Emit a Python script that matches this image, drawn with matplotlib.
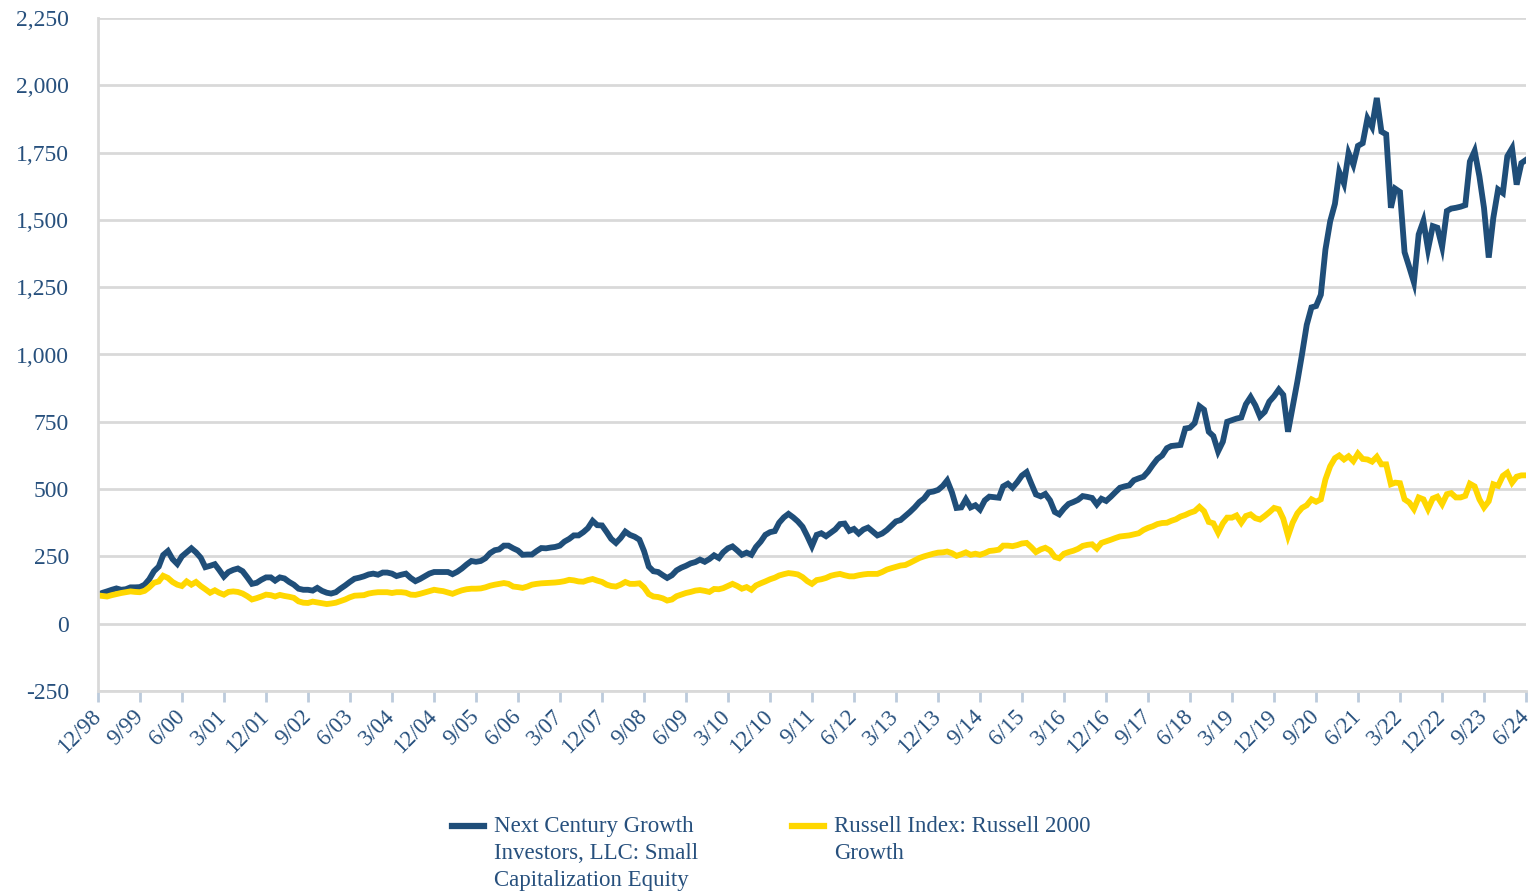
import numpy as np
import pandas as pd
import matplotlib
matplotlib.use('Agg')
import matplotlib.pyplot as plt
from matplotlib.lines import Line2D
from matplotlib.ticker import FuncFormatter

plt.rcParams['font.family'] = ['Liberation Serif', 'DejaVu Serif']

# growth of $100, monthly, 12/98 .. 6/24
fund = [
    108, 115, 120, 126, 131, 126, 128, 135, 135, 136, 145, 165,
    195, 212, 255, 270, 240, 222, 250, 265, 280, 265, 245, 210,
    215, 221, 200, 175, 192, 200, 205, 195, 172, 148, 152, 163,
    172, 172, 160, 172, 168, 155, 145, 130, 126, 126, 123, 133,
    122, 115, 112, 117, 130, 142, 155, 167, 171, 176, 183, 186,
    182, 190, 190, 186, 177, 182, 186, 170, 158, 166, 176, 186,
    192, 192, 192, 192, 184, 193, 205, 220, 233, 230, 233, 243,
    262, 273, 276, 290, 290, 280, 272, 256, 257, 257, 270, 281,
    280, 283, 285, 290, 305, 315, 328, 328, 340, 355, 382, 366,
    365, 340, 315, 300, 318, 342, 330, 323, 312, 270, 212, 195,
    192, 180, 170, 180, 198, 208, 215, 224, 229, 238, 230, 240,
    254, 244, 265, 280, 287, 272, 256, 264, 256, 285, 305, 330,
    340, 344, 375, 395, 408, 395, 380, 360, 325, 288, 330, 336,
    325, 338, 350, 370, 372, 345, 352, 335, 350, 357, 342, 328,
    335, 348, 363, 380, 385, 400, 415, 432, 452, 465, 488, 491,
    497, 512, 532, 488, 430, 432, 462, 432, 440, 424, 458, 472,
    470, 468, 510, 520, 505, 526, 550, 563, 520, 480, 473, 482,
    458, 415, 406, 428, 445, 452, 460, 474, 471, 467, 443, 464,
    456, 472, 488, 505, 510, 514, 533, 540, 546, 565, 590, 612,
    625, 652, 660, 662, 664, 725, 728, 745, 808, 795, 713, 697,
    640, 676, 750, 756, 762, 766, 815, 842, 811, 770, 787, 825,
    845, 870, 850, 713, 805, 900, 1000, 1110, 1175, 1180, 1222, 1390,
    1495, 1560, 1678, 1635, 1748, 1705, 1775, 1785, 1877, 1846, 1953, 1828,
    1818, 1545, 1616, 1604, 1380, 1324, 1268, 1446, 1496, 1391, 1477, 1471,
    1400, 1533, 1542, 1545, 1549, 1555, 1717, 1756, 1662, 1545, 1360, 1508,
    1613, 1600, 1736, 1766, 1631, 1711, 1723,
]

russell = [
    105, 103, 101, 106, 110, 114, 117, 120, 118, 117, 122, 135,
    152, 157, 178, 170, 155, 145, 140, 157, 145, 155, 140, 128,
    115, 124, 115, 108, 118, 120, 118, 112, 102, 90, 95, 101,
    108, 106, 101, 107, 103, 100, 96, 83, 78, 77, 82, 79,
    76, 73, 75, 78, 84, 90, 98, 104, 105, 106, 112, 115,
    117, 117, 117, 114, 117, 117, 115, 108, 107, 111, 116, 121,
    126, 123, 121, 116, 111, 118, 124, 128, 130, 130, 131, 135,
    141, 145, 148, 151, 148, 138, 136, 133, 138, 145, 148, 150,
    151, 152, 153, 155, 158, 163, 161, 157, 156, 162, 166, 160,
    155, 145, 140, 138, 145, 155, 148, 148, 150, 135, 110, 101,
    99, 94, 86, 90, 102, 108, 114, 118, 123, 125, 122, 118,
    129, 128, 132, 140, 148, 140, 130, 136, 126, 142, 150, 157,
    165, 171, 179, 184, 188, 186, 183, 173, 158, 148, 162, 165,
    170, 178, 182, 185, 180, 176, 176, 180, 183, 185, 185, 185,
    192, 201, 206, 211, 216, 218, 226, 235, 244, 250, 255, 260,
    264, 265, 268, 262, 252, 258, 265, 256, 260, 256, 262, 270,
    272, 275, 290, 290, 288, 292, 298, 300, 284, 266, 276, 282,
    272, 248, 243, 260, 266, 271, 278, 289, 293, 295, 279, 300,
    306, 312, 318, 324, 326, 328, 332, 336, 348, 356, 362, 370,
    374, 375, 382, 388, 398, 404, 412, 418, 434, 418, 378, 373,
    338, 373, 394, 394, 402, 375, 400, 406, 392, 387, 400, 414,
    430, 425, 390, 326, 375, 410, 430, 440, 462, 453, 462, 536,
    585, 615, 625, 610, 622, 604, 632, 612, 610, 602, 620, 592,
    592, 518, 524, 522, 462, 450, 426, 469, 462, 426, 465, 472,
    444, 481, 485, 469, 469, 475, 520, 510, 462, 432, 455, 518,
    512, 549, 561, 524, 546, 551, 551,
]

dates = pd.date_range('1998-12-31', periods=len(fund), freq='ME')
tick_dates = dates[::9]
tick_labels = [f"{d.month}/{d.strftime('%y')}" for d in tick_dates]

fund_label = 'Next Century Growth\nInvestors, LLC: Small\nCapitalization Equity'
russell_label = 'Russell Index: Russell 2000\nGrowth'

navy = '#1f4e79'
gold = '#ffd700'
txt = '#27507d'
grid = '#d9d9d9'

fig = plt.figure(figsize=(15.36, 8.96), dpi=100)
ax = fig.add_axes([98/1536, 1-691/896, 1428/1536, 673/896])

ax.plot(dates, fund, color=navy, lw=4.2, solid_joinstyle='miter')
ax.plot(dates, russell, color=gold, lw=4.2, solid_joinstyle='miter')

ax.set_xlim(dates[0], dates[-1])
ax.set_ylim(-250, 2250)
ax.set_yticks(np.arange(-250, 2251, 250))
ax.yaxis.set_major_formatter(FuncFormatter(lambda v, p: f'{int(v):,}'))
ax.grid(axis='y', color=grid, lw=2)
ax.set_axisbelow(True)

for s in ['top', 'right']:
    ax.spines[s].set_visible(False)
ax.spines['left'].set_color(grid)
ax.spines['left'].set_linewidth(2)
ax.spines['bottom'].set_color(grid)
ax.spines['bottom'].set_linewidth(2)

ax.tick_params(axis='y', length=0, pad=21, labelsize=17, labelcolor=txt)
ax.set_xticks(tick_dates)
ax.set_xticklabels(tick_labels, rotation=45, ha='right', va='center',
                   rotation_mode='anchor')
ax.tick_params(axis='x', length=8, width=2, color='#bccbdc', pad=8,
               labelsize=16.5, labelcolor=txt)

# legend drawn by hand under the plot
def px(x, y):
    return x/1536, 1-y/896

for hx, tx, lab, col in [(452, 494, fund_label, navy),
                         (792, 834, russell_label, gold)]:
    x0, y0 = px(hx, 826)
    x1, _ = px(hx + 32, 826)
    fig.add_artist(Line2D([x0, x1], [y0, y0], color=col, lw=4.5,
                          transform=fig.transFigure))
    fig.text(*px(tx, 816), lab, ha='left', va='top', fontsize=16.5,
             color=txt, linespacing=1.39)

fig.savefig('out.png', dpi=100)
